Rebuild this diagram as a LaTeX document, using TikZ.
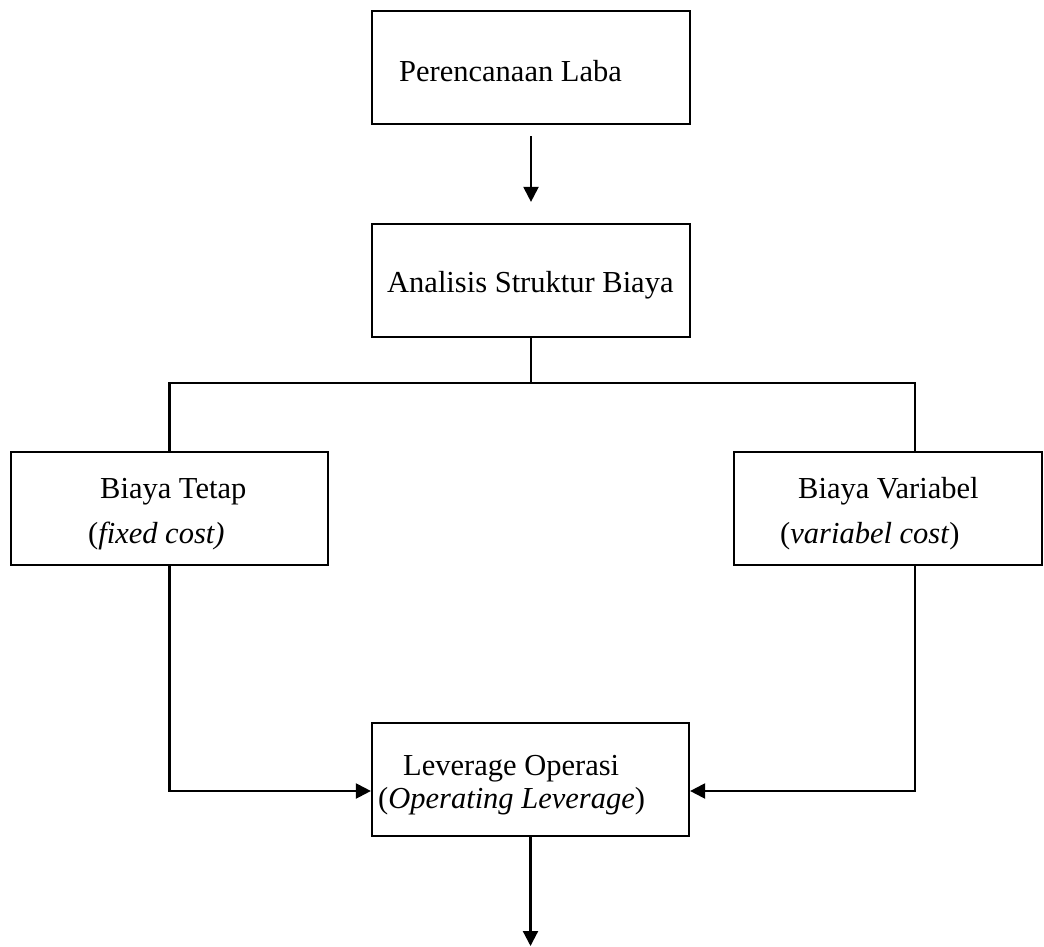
\documentclass[tikz,border=0pt]{standalone}
\usepackage{fontspec}
\setmainfont{Liberation Serif}
\usetikzlibrary{arrows.meta}
\begin{document}
\begin{tikzpicture}[x=1pt,y=-1pt,
  box/.style={draw,line width=2.2pt,inner sep=0pt,minimum height=113pt},
  txt/.style={anchor=base west,inner sep=0pt,font=\fontsize{30.5}{36}\selectfont},
  conn/.style={line width=2.2pt},
  arr/.style={line width=2.2pt,-{Triangle[length=15pt,width=15pt]}}]
\useasboundingbox (0,0) rectangle (1044,947);
% boxes
\node[box,minimum width=318pt] (b1) at (531,67.5) {};
\node[box,minimum width=318pt] (b2) at (531,280.5) {};
\node[box,minimum width=317pt] (b3) at (169.5,508.5) {};
\node[box,minimum width=308pt] (b4) at (888,508.5) {};
\node[box,minimum width=317pt] (b5) at (530.5,779.5) {};
% texts
\node[txt] (t1) at (399,82) {Perencanaan Laba};
\node[txt] (t2) at (387,292) {Analisis Struktur Biaya};
\node[txt] (t3a) at (100,498) {Biaya Tetap};
\node[txt] (t3b) at (88,543) {(\textit{fixed cost)}};
\node[txt] (t4a) at (798,498) {Biaya Variabel};
\node[txt] (t4b) at (780,543) {(\textit{variabel cost})};
\node[txt] (t5a) at (403,775) {Leverage Operasi};
\node[txt] (t5b) at (378,808) {(\textit{Operating Leverage})};
% coordinates
\coordinate (hr) at (915,383);
\coordinate (endp) at (530.5,946);
% connectors
\draw[arr] ([yshift=-11pt]b1.south) -- ([yshift=21pt]b2.north);
\draw[conn] (b2.south) -- (b2.south |- hr);
\draw[conn] (b3.north) |- (hr) -- (hr |- b4.north);
\draw[arr] (b3.south) |- ([yshift=-11.5pt]b5.west);
\draw[arr] (hr |- b4.south) |- ([yshift=-11.5pt]b5.east);
\draw[arr] (b5.south) -- (endp);
\end{tikzpicture}
\end{document}
